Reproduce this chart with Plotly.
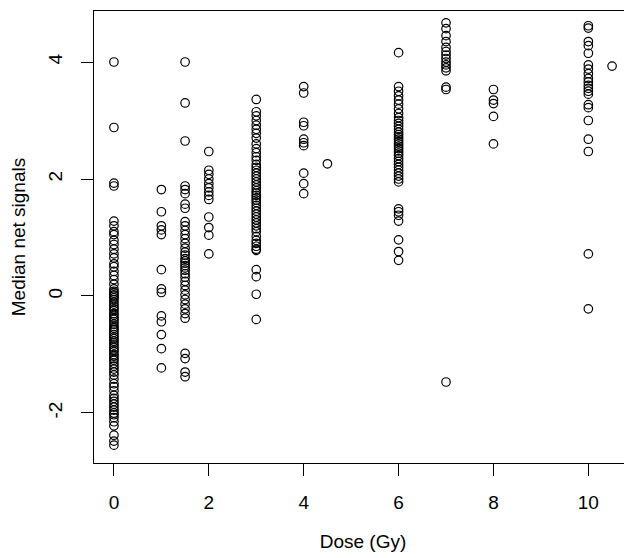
import plotly.graph_objects as go

# Dose groups (Gy) and median net signal values
dose_0 = [4.0, 2.88, 1.93, 1.88,
          1.28, 1.2, 1.1, 1.05, 0.95, 0.88, 0.8, 0.72, 0.65, 0.55, 0.5, 0.42, 0.35,
          0.28, 0.2, 0.12, 0.08, 0.05, 0.02, 0.0, -0.03, -0.06, -0.1, -0.14, -0.18,
          -0.22, -0.25, -0.3, -0.33, -0.37, -0.4, -0.44, -0.48, -0.52, -0.55, -0.58,
          -0.62, -0.66, -0.7, -0.73, -0.77, -0.8, -0.84, -0.88, -0.92, -0.95, -1.0,
          -1.03, -1.07, -1.1, -1.15, -1.2, -1.25, -1.3, -1.35, -1.42, -1.5, -1.55,
          -1.62, -1.7, -1.75, -1.8, -1.85, -1.9, -1.95, -2.0, -2.03, -2.08, -2.15,
          -2.22, -2.38, -2.48, -2.55]
dose_1 = [1.82, 1.44, 1.2, 1.13, 1.05, 0.45, 0.12, 0.06, -0.34, -0.44, -0.66, -0.9, -1.23]
dose_1_5 = [4.0, 3.3, 2.65, 1.88, 1.82, 1.75, 1.57, 1.5, 1.27, 1.2, 1.12, 1.05, 0.98,
            0.9, 0.82, 0.75, 0.7, 0.64, 0.6, 0.56, 0.52, 0.48, 0.44, 0.38, 0.32, 0.25,
            0.18, 0.1, 0.02, -0.06, -0.14, -0.22, -0.3, -0.38, -0.98, -1.07, -1.3, -1.38]
dose_2 = [2.47, 2.15, 2.08, 2.0, 1.92, 1.85, 1.78, 1.72, 1.65, 1.35, 1.17, 1.04, 0.72]
dose_3 = [3.36, 3.15, 3.08, 3.0, 2.92, 2.85, 2.78, 2.7, 2.6, 2.52, 2.45, 2.38, 2.32,
          2.25, 2.2, 2.15, 2.1, 2.05, 2.0, 1.95, 1.9, 1.85, 1.8, 1.76, 1.72, 1.68,
          1.64, 1.6, 1.55, 1.5, 1.45, 1.4, 1.35, 1.3, 1.25, 1.2, 1.15, 1.1, 1.02,
          0.95, 0.9, 0.85, 0.8, 0.78, 0.45, 0.33, 0.03, -0.4]
dose_4 = [3.58, 3.47, 2.97, 2.91, 2.68, 2.62, 2.57, 2.1, 1.92, 1.75]
dose_4_5 = [2.26]
dose_6 = [4.16, 3.58, 3.5, 3.42, 3.35, 3.28, 3.2, 3.12, 3.05, 3.0, 2.95, 2.9, 2.85,
          2.8, 2.76, 2.72, 2.68, 2.64, 2.6, 2.56, 2.52, 2.48, 2.44, 2.4, 2.35, 2.3,
          2.25, 2.2, 2.15, 2.1, 2.05, 2.0, 1.95, 1.49, 1.44, 1.38, 1.28, 0.96, 0.76, 0.61]
dose_7 = [4.67, 4.57, 4.45, 4.35, 4.25, 4.18, 4.12, 4.06, 4.0, 3.95, 3.9, 3.85, 3.57,
          3.53, -1.47]
dose_8 = [3.53, 3.35, 3.29, 3.07, 2.6]
dose_10 = [4.62, 4.58, 4.35, 4.28, 4.15, 3.95, 3.88, 3.8, 3.72, 3.66, 3.6, 3.55, 3.5,
           3.45, 3.27, 3.22, 3.0, 2.68, 2.47, 0.72, -0.22]
dose_10_5 = [3.93]

groups = [(0, dose_0), (1, dose_1), (1.5, dose_1_5), (2, dose_2), (3, dose_3),
          (4, dose_4), (4.5, dose_4_5), (6, dose_6), (7, dose_7), (8, dose_8),
          (10, dose_10), (10.5, dose_10_5)]

x_vals, y_vals = [], []
for d, vals in groups:
    x_vals += [d] * len(vals)
    y_vals += vals

x_ticks = [0, 2, 4, 6, 8, 10]
y_ticks = [-2, 0, 2, 4]

font = "Liberation Sans, Arial, sans-serif"

fig = go.Figure(go.Scatter(
    x=x_vals, y=y_vals, mode="markers",
    marker=dict(symbol="circle-open", size=8.5, color="black",
                line=dict(width=1.2, color="black")),
    showlegend=False,
))

fig.update_layout(
    width=624, height=550,
    margin=dict(l=86, r=0, t=3, b=95),
    paper_bgcolor="white", plot_bgcolor="white",
    font=dict(family=font, size=19, color="black"),
)
fig.update_xaxes(
    range=[-0.42, 10.92], tickvals=x_ticks, ticktext=[str(t) for t in x_ticks],
    showgrid=False, zeroline=False,
    showline=True, mirror=True, linecolor="black", linewidth=1,
    ticks="outside", ticklen=12, tickcolor="black", tickwidth=1,
    ticklabelstandoff=10,
    title=dict(text="Dose (Gy)", standoff=22, font=dict(size=19)),
    automargin=False,
)
fig.update_yaxes(
    range=[-2.855, 4.872], tickvals=y_ticks, ticktext=[str(t) for t in y_ticks],
    tickangle=-90,
    showgrid=False, zeroline=False,
    showline=True, mirror=True, linecolor="black", linewidth=1,
    ticks="outside", ticklen=12, tickcolor="black", tickwidth=1,
    ticklabelstandoff=11,
    title=dict(text="Median net signals", standoff=17, font=dict(size=19)),
    automargin=False,
)

fig.write_html("out.html")
